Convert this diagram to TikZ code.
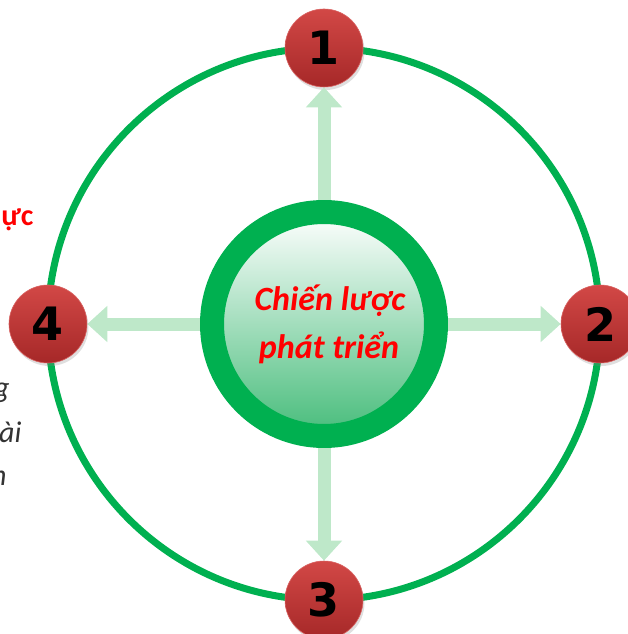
\documentclass[tikz,border=0pt]{standalone}
\usepackage{fontspec}
\setmainfont{Carlito}
\newfontfamily\numfont{DejaVu Sans}
\usetikzlibrary{arrows.meta,shadows}
\definecolor{ringgreen}{RGB}{0,176,80}
\definecolor{arrowgreen}{RGB}{190,232,201}
\definecolor{balltop}{RGB}{210,72,70}
\definecolor{ballbottom}{RGB}{166,40,40}
\definecolor{coregreen}{RGB}{70,188,122}
\definecolor{coremid}{RGB}{206,238,216}
\definecolor{titlered}{RGB}{255,0,0}
\begin{document}
\begin{tikzpicture}[x=1pt, y=1pt,
        ball/.style={circle, minimum size=78pt, inner sep=0pt,
            top color=balltop, bottom color=ballbottom, draw=balltop!85!white, line width=0.6pt,
            drop shadow={opacity=0.25, shadow xshift=1.5pt, shadow yshift=-3pt},
            font=\numfont\bfseries\fontsize{46pt}{46pt}\selectfont},
        spoke/.style={draw=arrowgreen, line width=13pt, -{Triangle[width=35pt, length=20pt]}},
        title/.style={font=\bfseries\itshape\fontsize{34pt}{34pt}\selectfont, text=titlered, anchor=base},
        side/.style={font=\itshape\fontsize{30pt}{30pt}\selectfont, text=black!80, anchor=base east}]
    \useasboundingbox (-324,-310) rectangle (303,324);
    \draw[ringgreen, line width=7pt] (0,0) circle (276);
    \node[circle, minimum size=224pt, inner sep=0pt, line width=24pt, draw=ringgreen,
        top color=white, middle color=coremid, bottom color=coregreen] (core) at (0,0) {};
    \node[title] (title) at (6,13) {Chiến lược};
    \node[title] (subtitle) at (5,-34) {phát triển};
    \node[ball] (n1) at (0,276) {1};
    \node[ball] (n2) at (276,0) {2};
    \node[ball] (n3) at (0,-276) {3};
    \node[ball] (n4) at (-276,0) {4};
    \draw[spoke] (core) -- (n1);
    \draw[spoke] (core) -- (n2);
    \draw[spoke] (core) -- (n3);
    \draw[spoke] (core) -- (n4);
    \node[font=\bfseries\fontsize{30pt}{30pt}\selectfont, text=titlered, anchor=base east] (frag) at (-287,98) {ực};
    \node[side] (side1) at (-311,-73) {g};
    \node[side] (side2) at (-299,-118) {ài};
    \node[side] (side3) at (-314,-161) {n};
\end{tikzpicture}
\end{document}
